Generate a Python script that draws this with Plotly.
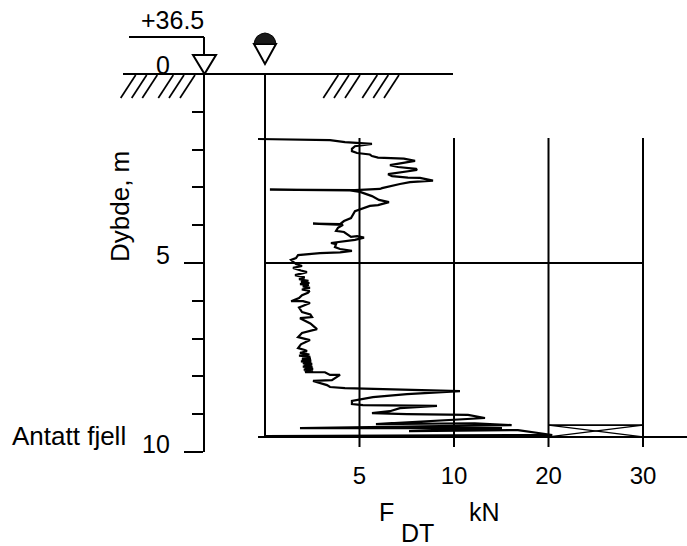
import plotly.graph_objects as go

# Penetration log: depth below ground (m) and force F_DT (kN)
depth_m = [1.72,1.75,1.80,1.85,1.91,1.98,2.04,2.09,2.13,2.17,2.21,2.24,2.30,2.41,2.46,2.51,2.54,2.65,2.70,2.74,2.75,2.82,2.86,2.91,3.02,3.04,3.07,3.06,3.08,3.12,3.23,3.33,3.39,3.47,3.49,3.63,3.70,3.81,3.89,3.97,3.96,3.99,4.07,4.15,4.18,4.31,4.29,4.33,4.39,4.45,4.47,4.50,4.58,4.63,4.68,4.72,4.74,4.79,4.87,4.92,
           5.03,5.08,5.13,5.20,5.24,5.32,5.38,5.43,5.47,5.50,5.53,5.56,5.58,5.62,5.66,5.70,5.74,5.79,5.85,5.93,6.01,6.01,6.06,6.18,6.30,6.36,6.43,6.46,6.60,6.75,6.85,6.96,7.04,7.15,7.25,7.30,7.33,7.38,7.42,7.45,7.48,7.51,7.53,7.55,7.58,7.60,7.62,7.65,7.67,7.70,7.72,7.74,7.76,7.78,7.80,7.82,7.84,7.86,7.89,7.89,
           7.96,7.96,8.10,8.12,8.23,8.28,8.31,8.39,8.47,8.55,8.65,8.73,8.76,8.78,8.84,8.92,8.97,9.00,9.02,9.10,9.13,9.15,9.26,9.24,9.29,9.37,9.37,9.45,9.42,9.55,9.58]
force_kN = [-0.37,3.44,4.23,5.66,4.76,4.60,4.60,4.87,5.55,5.66,5.98,7.35,7.94,6.61,7.04,7.99,8.04,6.51,6.72,7.56,8.20,8.89,7.67,7.14,6.19,6.08,4.76,0.26,4.50,5.03,5.66,6.03,6.56,5.98,5.55,4.76,4.66,4.55,4.18,3.97,2.54,4.13,3.86,3.76,4.18,4.55,4.87,5.24,4.76,3.97,3.49,3.76,3.70,3.97,4.60,3.97,2.91,1.75,1.64,1.38,
            1.64,1.96,1.48,1.90,2.22,1.59,2.10,1.80,2.30,1.90,2.35,1.85,2.32,2.00,2.38,1.95,2.36,2.27,1.96,1.80,1.38,2.01,2.38,1.80,1.96,2.40,2.49,1.85,2.40,2.75,1.96,1.75,2.38,1.90,1.75,2.10,2.22,1.85,2.35,1.80,2.40,1.96,2.43,1.95,2.45,1.90,2.45,2.00,2.50,2.05,2.50,2.00,2.52,2.10,2.55,2.05,2.54,2.15,2.17,3.17,
            3.44,3.97,3.54,2.54,3.28,3.44,4.23,10.63,7.51,5.71,4.60,4.60,5.18,9.10,7.14,6.61,5.66,7.51,11.48,13.28,11.16,10.0,5.87,12.2,16.1,1.85,15.08,7.62,16.77,20.4,0.0]

x_ticks = [5, 10, 20, 30]
y_major = [0, 5, 10]
y_minor = [1, 2, 3, 4, 6, 7, 8, 9]
rock_depth = 9.6
box_top = 9.29

L, R, T, B = 205, 687, 74, 452   # plot area in page pixels
PX_PER_UNIT = 18.9
X0 = 265

def scale(f):
    """The force axis is compressed by half above 10 kN."""
    return f if f <= 10 else 10 + (f - 10) / 2

def px(x): return (x - L) / (R - L)
def py(y): return (B - y) / (B - T)

INK = "#000000"
FONT = "Liberation Sans, Arial, sans-serif"

fig = go.Figure()
def line(xs, ys, w=2):
    fig.add_trace(go.Scatter(x=[scale(v) for v in xs], y=ys, mode="lines", cliponaxis=False,
                             line=dict(color=INK, width=w), hoverinfo="skip", showlegend=False))

line([0, 0], [0, rock_depth])
for t in x_ticks:
    line([t, t], [1.69, 9.87])
line([0, 30], [5, 5])
line([-0.37, 34.66], [rock_depth, rock_depth])
line([20, 30], [box_top, box_top], 1.6)
line([20, 30], [box_top, rock_depth], 1.3)
line([20, 30], [rock_depth, box_top], 1.3)
line(force_kN, depth_m, 2.2)

shapes = []
def seg(x0, y0, x1, y1, w=2):
    shapes.append(dict(type="line", xref="paper", yref="paper", x0=px(x0), y0=py(y0), x1=px(x1), y1=py(y1),
                       line=dict(color=INK, width=w)))
seg(123, 74, 453, 74, 2)
seg(129, 37, 204, 37, 2)
seg(204, 37, 204, 55, 2)
for b in [120.7, 131.7, 142.3, 158.3, 169, 180, 323.3, 334, 345, 362.3, 373.3, 384]:
    seg(b, 98, b + 15, 75, 1.7)

def poly(path_pts, fill="white", w=2):
    d = "M" + " L".join(f"{px(a):.5f},{py(b):.5f}" for a, b in path_pts) + " Z"
    shapes.append(dict(type="path", xref="paper", yref="paper", path=d, fillcolor=fill,
                       line=dict(color=INK, width=w)))
poly([(193, 55), (216, 55), (204.5, 74)])
poly([(254, 44), (276, 44), (265, 64)])
# Half disc of the water symbol
shapes.append(dict(type="path", xref="paper", yref="paper", fillcolor="#1a1a1a", line=dict(color=INK, width=1),
                   path="M" + " L".join(f"{px(265 + a):.5f},{py(44 + b):.5f}" for a, b in
                                        [(-11,0),(-10,-4),(-8,-7.5),(-4,-10),(0,-11),(4,-10),(8,-7.5),(10,-4),(11,0)]) + " Z"))

def label(text, x, y, size=25, anchor="center", angle=0):
    return dict(text=text, xref="paper", yref="paper", x=px(x), y=py(y), xanchor=anchor, yanchor="middle",
                showarrow=False, textangle=angle, font=dict(family=FONT, size=size, color=INK))

annotations = [
    label("+36.5", 172, 20, 25),
    label("Antatt fjell", 10, 436, 26, "left"),
    label("Dybde, m", 120, 207, 26, angle=-90),
    label("F", 386, 512, 25),
    label("DT", 417, 533, 25),
    label("kN", 484, 512, 25),
    label("0", 172, 65.5, 25, "right"),
    label("5", 172, 255, 25, "right"),
    label("10", 172, 443.5, 25, "right"),
]

fig.update_layout(
    width=687, height=546, autosize=False,
    margin=dict(l=L, r=687 - R, t=T, b=546 - B),
    paper_bgcolor="white", plot_bgcolor="white",
    showlegend=False, shapes=shapes, annotations=annotations,
    font=dict(family=FONT, size=24, color=INK),
    xaxis=dict(range=[(L - X0) / PX_PER_UNIT, (R - X0) / PX_PER_UNIT], showgrid=False, zeroline=False,
               showline=False, tickmode="array", tickvals=[scale(t) for t in x_ticks],
               ticktext=[str(t) for t in x_ticks], ticks="", ticklabelstandoff=7),
    yaxis=dict(range=[10, 0], showgrid=False, zeroline=False, showline=True, linecolor=INK, linewidth=2,
               tickmode="array", tickvals=y_major, showticklabels=False,
               ticks="outside", ticklen=19, tickwidth=2, tickcolor=INK,
               minor=dict(tickmode="array", tickvals=y_minor, ticks="outside", ticklen=11, tickwidth=2, tickcolor=INK)),
)
fig.write_html("out.html", config={"displayModeBar": False},
               post_script="document.body.style.margin='0';document.documentElement.style.overflow='hidden';")
